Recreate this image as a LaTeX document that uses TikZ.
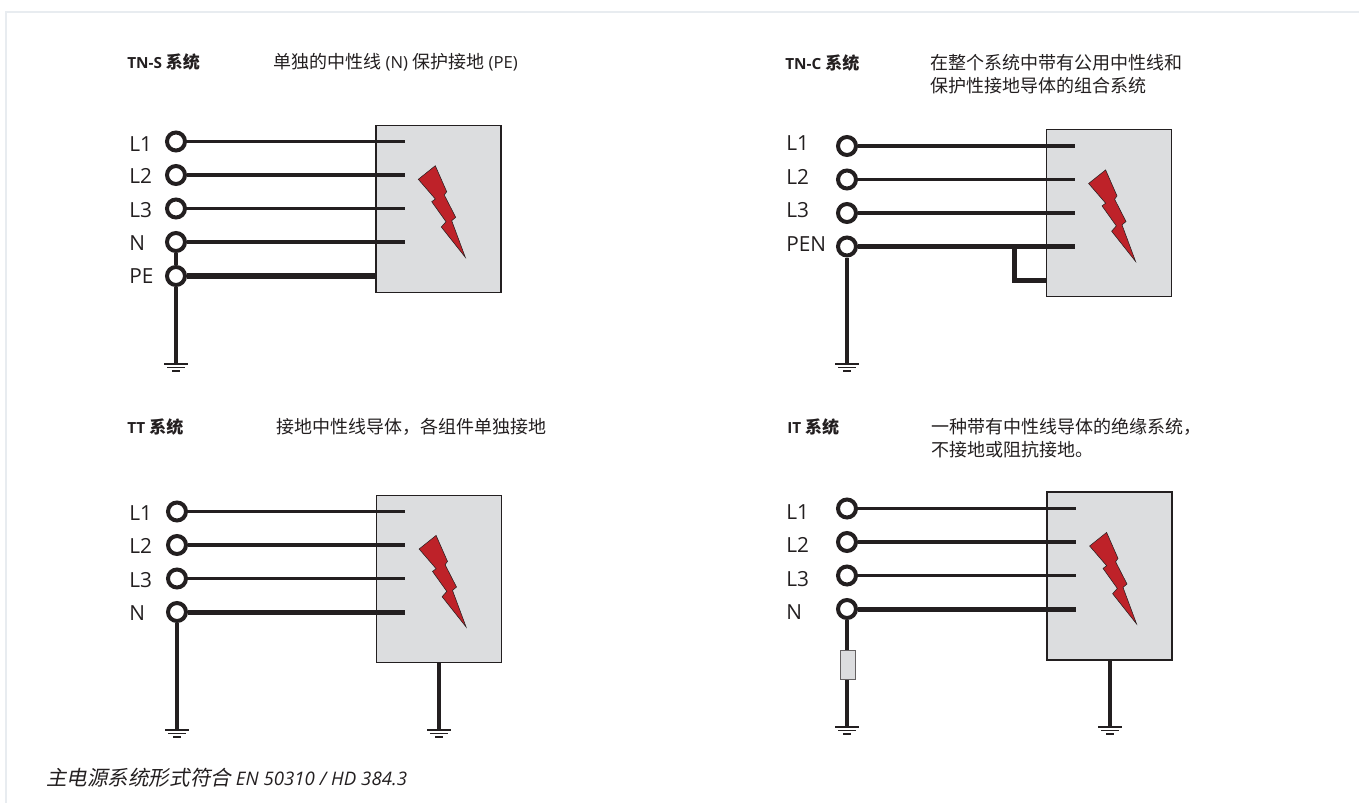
\documentclass[tikz,border=0pt]{standalone}
\usepackage{fontspec}
\setmainfont{Open Sans}
\newfontfamily\cjk{Noto Sans CJK SC}
\newfontfamily\cjkb{Noto Sans CJK SC Bold}
\definecolor{ink}{HTML}{231F20}
\definecolor{panel}{HTML}{DCDDDF}
\definecolor{bolt}{HTML}{BE2229}
\definecolor{framec}{HTML}{E8ECF0}
\tikzset{
 x=0.75pt,y=-0.75pt,
 term/.style={circle,draw=ink,line width=3pt,fill=white,inner sep=0pt,minimum size=13.5pt},
 lbl/.style={anchor=base west,inner sep=0pt,font=\fontsize{15.6pt}{18pt}\selectfont,text=ink},
 wire/.style={draw=ink,line width=2.5pt},
 heavy wire/.style={draw=ink,line width=3.75pt},
 earth/.style={draw=ink,line width=3.5pt},
 cab/.style={draw=ink,line width=1.1pt,fill=panel,inner sep=0pt},
 zap/.style={draw=ink,line width=0.4pt,fill=bolt},
 title/.style={anchor=base west,inner sep=0pt,font=\fontsize{11.5pt}{14pt}\selectfont\bfseries,text=ink},
 desc/.style={anchor=base west,inner sep=0pt,font=\fontsize{12.5pt}{15pt}\selectfont,text=ink},
 gnd/.style={draw=ink,line width=1pt}
}
\newcommand{\cjkT}[1]{{\fontsize{12.75pt}{14pt}\cjkb #1}}
\newcommand{\cjkD}[1]{{\fontsize{13.5pt}{15pt}\cjk #1}}
\newcommand{\ground}[2]{%
 \draw[gnd,line width=1.4pt] (#1-12,#2) -- (#1+12,#2);
 \draw[gnd] (#1-9,#2+3.4) -- (#1+9,#2+3.4);
 \draw[gnd,line width=1.2pt] (#1-4,#2+6.8) -- (#1+4,#2+6.8);}
\newcommand{\zapbolt}[2]{%
 \draw[zap] (#1+42.6,#2+54) -- (#1+59.6,#2+40.4) -- (#1+71,#2+66.4) -- (#1+68.6,#2+69.7)
 -- (#1+80,#2+92) -- (#1+76,#2+95.4) -- (#1+89.6,#2+132) -- (#1+65.6,#2+101.7)
 -- (#1+70.3,#2+96.4) -- (#1+56,#2+76.4) -- (#1+59.6,#2+73.7) -- cycle;}
\begin{document}
\begin{tikzpicture}
\useasboundingbox (0,0) rectangle (1359,803);
\draw[framec,line width=1pt] (6,803) -- (6,12) -- (1359,12);
% TN-S
\node[cab,minimum width=125pt*0.75,minimum height=167pt*0.75] (b1) at (438.5,209) {};
\zapbolt{375.7}{125.3}
\node[term] (t11) at (176,141.5) {};
\node[term] (t12) at (176,175) {};
\node[term] (t13) at (176,208.5) {};
\node[term] (t14) at (176,242) {};
\node[term] (t15) at (176,276) {};
\coordinate (e1) at (176,364);
\coordinate (x11) at (404.5,141.5);\coordinate (x12) at (404.5,175);\coordinate (x13) at (404.5,208.5);\coordinate (x14) at (404.5,242);
\draw[wire] (t11) -- (x11);\draw[wire] (t12) -- (x12);\draw[wire] (t13) -- (x13);\draw[wire] (t14) -- (x14);
\draw[heavy wire,line width=4.2pt] (t15) -- (t15 -| b1.west);
\draw[earth] (t14) -- (t15);\draw[earth] (t15) -- (e1);
\ground{176}{364}
\node[lbl] (l11) at (129,151) {L1};
\node[lbl] (l12) at (129,183.5) {L2};
\node[lbl] (l13) at (129,217) {L3};
\node[lbl] (l14) at (129,250.5) {N};
\node[lbl] (l15) at (129,283.5) {PE};
\node[title] (h1) at (127,68.3) {TN-S \cjkT{系统}};
\node[desc] (d1) at (273,68.3) {\cjkD{单独的中性线} (N) \cjkD{保护接地} (PE)};
% TN-C
\node[cab,minimum width=125pt*0.75,minimum height=167.5pt*0.75] (b2) at (1108.8,213) {};
\zapbolt{1046}{129.5}
\node[term] (t21) at (847,146) {};
\node[term] (t22) at (847,179.5) {};
\node[term] (t23) at (847,213) {};
\node[term] (t24) at (847,246.5) {};
\coordinate (e2) at (847,364);
\coordinate (x21) at (1074.5,146);\coordinate (x22) at (1074.5,179.5);\coordinate (x23) at (1074.5,213);\coordinate (x24) at (1074.5,246.5);
\coordinate (j2) at (1014.5,246.5);\coordinate (k2) at (1014.5,280);\coordinate (m2) at (1046,280);
\draw[wire] (t21) -- (x21);\draw[wire] (t22) -- (x22);\draw[wire] (t23) -- (x23);
\draw[heavy wire] (t24) -- (x24);
\draw[earth] (t24) -- (e2);
\draw[draw=ink,line width=3.75pt,line join=miter] (j2) -- (k2) -- (m2);
\ground{847}{364}
\node[lbl] (l21) at (786,150) {L1};
\node[lbl] (l22) at (786,184) {L2};
\node[lbl] (l23) at (786,217) {L3};
\node[lbl] (l24) at (786,251) {PEN};
\node[title] (h2) at (785,69) {TN-C \cjkT{系统}};
\node[desc] (d2) at (930,69.3) {\cjkD{在整个系统中带有公用中性线和}};
\node[desc] (d2b) at (930,92) {\cjkD{保护性接地导体的组合系统}};
% TT
\node[cab,minimum width=125pt*0.75,minimum height=167pt*0.75] (b3) at (439,579) {};
\zapbolt{376.5}{495}
\node[term] (t31) at (177,511.5) {};
\node[term] (t32) at (177,545) {};
\node[term] (t33) at (177,578.5) {};
\node[term] (t34) at (177,612) {};
\coordinate (e3) at (177,730);\coordinate (f3) at (439,730);
\coordinate (x31) at (405,511.5);\coordinate (x32) at (405,545);\coordinate (x33) at (405,578.5);\coordinate (x34) at (405,612);
\draw[wire] (t31) -- (x31);\draw[wire] (t32) -- (x32);\draw[wire] (t33) -- (x33);
\draw[heavy wire] (t34) -- (x34);
\draw[earth] (t34) -- (e3);
\draw[earth] (b3.south) -- (f3);
\ground{177}{730}\ground{439}{730}
\node[lbl] (l31) at (129,520) {L1};
\node[lbl] (l32) at (129,553.5) {L2};
\node[lbl] (l33) at (129,587) {L3};
\node[lbl] (l34) at (129,620) {N};
\node[title] (h3) at (127,433) {TT \cjkT{系统}};
\node[desc] (d3) at (276,433) {\cjkD{接地中性线导体，各组件单独接地}};
% IT
\node[cab,minimum width=125pt*0.75,minimum height=168pt*0.75] (b4) at (1109.5,576) {};
\zapbolt{1047}{492}
\node[term] (t41) at (847,508.5) {};
\node[term] (t42) at (847,542) {};
\node[term] (t43) at (847,575.5) {};
\node[term] (t44) at (847,609) {};
\coordinate (e4) at (847,727);\coordinate (f4) at (1110,727);
\coordinate (x41) at (1075.7,508.5);\coordinate (x42) at (1075.7,542);\coordinate (x43) at (1075.7,575.5);\coordinate (x44) at (1075.7,609);
\draw[wire] (t41) -- (x41);\draw[wire] (t42) -- (x42);\draw[wire] (t43) -- (x43);
\draw[heavy wire] (t44) -- (x44);
\draw[earth] (t44) -- (e4);
\node[draw=ink!70,line width=0.6pt,fill=panel,inner sep=0pt,minimum width=11pt,minimum height=21.75pt] (r4) at (847.7,664.8) {};
\draw[earth] (b4.south -| f4) -- (f4);
\ground{847}{727}\ground{1110}{727}
\node[lbl] (l41) at (786,519) {L1};
\node[lbl] (l42) at (786,552) {L2};
\node[lbl] (l43) at (786,586) {L3};
\node[lbl] (l44) at (786,619) {N};
\node[title] (h4) at (787,433) {IT \cjkT{系统}};
\node[desc] (d4) at (931,433) {\cjkD{一种带有中性线导体的绝缘系统，}};
\node[desc] (d4b) at (931,456) {\cjkD{不接地或阻抗接地。}};
% caption
\node[anchor=base west,inner sep=0pt,font=\fontsize{14pt}{17pt}\selectfont\itshape,text=ink] (cap) at (46,785) {{\fontsize{15.4pt}{17pt}\cjk\addfontfeature{FakeSlant=0.2} 主电源系统形式符合} EN 50310 / HD 384.3};
\end{tikzpicture}
\end{document}
